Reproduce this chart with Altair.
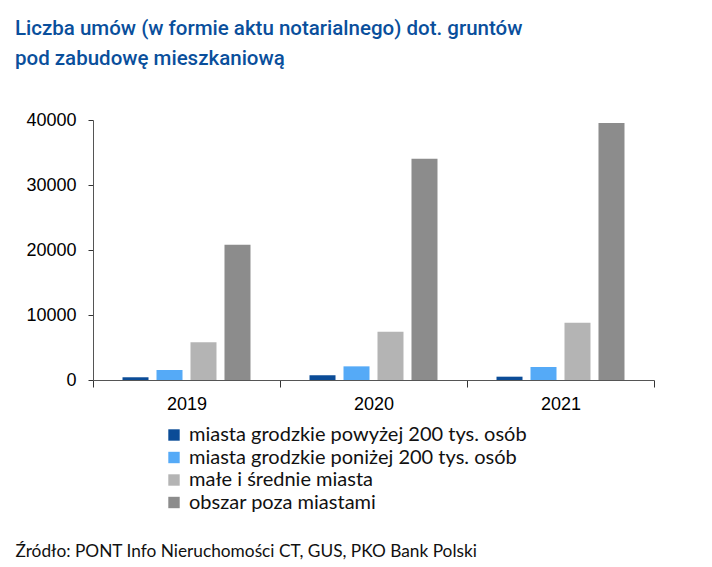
import altair as alt
import pandas as pd

years = ["2019", "2020", "2021"]
series = [
    "miasta grodzkie powyżej 200 tys. osób",
    "miasta grodzkie poniżej 200 tys. osób",
    "małe i średnie miasta",
    "obszar poza miastami",
]
v_above200 = [420, 720, 510]
v_below200 = [1540, 2100, 2000]
v_small = [5800, 7430, 8820]
v_rural = [20800, 34050, 39540]
colors = ["#0B4C97", "#55AAF7", "#B4B4B4", "#8C8C8C"]

rows = []
for s, vals in zip(series, [v_above200, v_below200, v_small, v_rural]):
    for y, v in zip(years, vals):
        rows.append({"rok": y, "kategoria": s, "order": series.index(s), "wartosc": v})
df = pd.DataFrame(rows)

title_font = "Roboto"
text_font = "Lato"
axis_font = "Liberation Sans"

chart = (
    alt.Chart(df)
    .mark_bar()
    .encode(
        x=alt.X(
            "rok:N",
            sort=years,
            scale=alt.Scale(paddingInner=0, paddingOuter=0),
            axis=alt.Axis(
                title="Źródło: PONT Info Nieruchomości CT, GUS, PKO Bank Polski",
                titleX=-78,
                titleY=176,
                titleAlign="left",
                titleAnchor="start",
                titleBaseline="alphabetic",
                titleFont=text_font,
                titleFontSize=17.3,
                titleFontWeight="normal",
                titleColor="#111111",
                labelAngle=0,
                labelFont=axis_font,
                labelFontSize=18,
                labelColor="#000000",
                labelPadding=8,
                tickBand="extent",
                tickSize=7,
                tickColor="#333333",
                domainColor="#555555",
            ),
        ),
        xOffset=alt.XOffset(
            "kategoria:N",
            sort=series,
            scale=alt.Scale(paddingInner=0.235, paddingOuter=0.868),
        ),
        y=alt.Y(
            "wartosc:Q",
            scale=alt.Scale(domain=[0, 40000], nice=False),
            axis=alt.Axis(
                title=None,
                values=[0, 10000, 20000, 30000, 40000],
                format="d",
                grid=False,
                labelFont=axis_font,
                labelFontSize=18,
                labelColor="#000000",
                labelPadding=12,
                tickSize=5,
                tickColor="#333333",
                domainColor="#555555",
            ),
        ),
        color=alt.Color(
            "kategoria:N",
            sort=series,
            scale=alt.Scale(domain=series, range=colors),
            legend=alt.Legend(
                title=None,
                orient="none",
                legendX=71,
                legendY=305,
                symbolType="square",
                symbolSize=130,
                symbolStrokeWidth=0,
                labelFont=text_font,
                labelFontSize=20,
                labelColor="#111111",
                labelOffset=5,
                rowPadding=2.5,
                padding=0,
                labelLimit=500,
            ),
        ),
    )
    .properties(
        width=561,
        height=260,
        autosize=alt.AutoSizeParams(type="none"),
        padding={"left": 85, "top": 112, "right": 50, "bottom": 184},
        title=alt.TitleParams(
            text=[
                "Liczba umów (w formie aktu notarialnego) dot. gruntów",
                "pod zabudowę mieszkaniową",
            ],
            anchor="start",
            frame="group",
            dx=-78,
            offset=42,
            font=title_font,
            fontSize=20.5,
            fontWeight=500,
            color="#0A4F9C",
            lineHeight=30,
        ),
    )
    .configure_view(stroke=None)
)

chart.save("out.html", embed_options={"renderer": "svg", "actions": False})
